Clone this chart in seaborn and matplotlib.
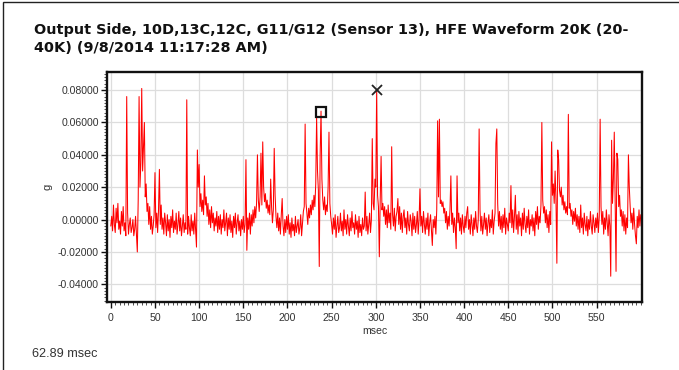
import numpy as np
import pandas as pd
import matplotlib
matplotlib.use("Agg")
import matplotlib.pyplot as plt
from matplotlib.ticker import MultipleLocator, FormatStrFormatter
from matplotlib.patches import Rectangle
import seaborn as sns

# ---------------- data ----------------
title_line1 = "Output Side, 10D,13C,12C, G11/G12 (Sensor 13), HFE Waveform 20K (20-"
title_line2 = "40K) (9/8/2014 11:17:28 AM)"
x_label = "msec"
y_label = "g"
footer_text = "62.89 msec"

# time axis: one sample per ms, 0 .. 600 ms
time_start_ms = 0
time_step_ms = 1

# amplitude in milli-g, one line per 10 ms
amp_mg = [
    -4, 2, -7, 9, -3, -8, 7, -2, 10, -6,
    -1, -9, 5, -4, 8, -7, -2, -10, 76, 4,
    -9, -3, 1, -8, -5, 0, -10, -6, 2, -9,
    -20, 12, 76, 20, 35, 81, 30, 45, 60, 14,
    22, 5, 10, -3, 8, -6, 2, -9, -4, 3,
    29, -5, 4, -8, 6, 31, -3, 9, -6, 1,
    -9, 4, -2, -10, 3, -7, 0, -11, 2, -5,
    6, -8, -1, -6, 4, -9, -3, 5, -7, 1,
    -10, -4, 3, -8, -2, -6, 74, -9, 2, -5,
    -10, 3, -7, -1, -9, 4, -6, -17, 43, 20,
    34, 8, 16, 5, 12, 3, 27, 9, 14, 2,
    10, -3, 6, -5, 8, -2, 4, -7, 1, -4,
    5, -8, 2, -6, 3, -9, 0, -5, 6, -7,
    -2, 4, -10, 1, -6, 3, -8, -1, -11, 2,
    -5, 4, -9, -2, 3, -7, -1, -10, 0, -6,
    2, -8, -3, 37, -19, 1, -6, 4, -9, 3,
    -4, 6, -2, 8, 1, 10, 40, 12, 5, 14,
    41, 9, 48, 20, 11, 16, 7, 12, 4, 9,
    3, 25, 8, -2, 6, 44, 15, 2, -5, 4,
    -7, 1, -9, 3, 13, -4, -10, 0, -8, 2,
    -6, 3, -9, -2, -11, 1, -7, -3, -10, 2,
    -8, -4, 0, -9, -5, 3, -10, -2, 5, 8,
    59, 10, 4, -3, 7, 1, 9, 3, 12, 6,
    15, 8, 22, 63, 30, 18, -29, 40, 67, 25,
    12, 6, 14, 3, 9, 5, 20, 54, 10, 2,
    -3, -9, 1, -6, 3, -11, -4, 2, -8, -5,
    4, -7, -1, -10, 6, -6, 0, -9, 3, -4,
    -10, 1, -7, 5, -5, -2, -9, 3, -6, -1,
    -11, 2, -8, -3, -10, 1, -6, -4, 17, -7,
    2, -9, -3, 4, -8, 0, 50, 10, 6, 25,
    20, 80, 15, 8, -23, 12, 39, 6, 10, 2,
    8, -3, 6, -5, 9, -2, 4, -6, 45, 3,
    -4, 7, -7, 2, 5, 13, -3, 8, -6, 4,
    -8, 2, 6, -5, 1, -9, 5, -3, -7, 3,
    -1, -10, 4, -6, 2, -8, -3, 5, -9, 0,
    19, -4, 2, -8, 5, -3, -9, 1, -6, 4,
    -10, -2, 3, -7, -16, 0, -5, 2, -9, 6,
    61, 14, 62, 10, 12, 8, 11, 4, 7, -2,
    5, -6, 2, -4, 6, 27, -3, 4, -8, 1,
    -5, -18, 27, -2, 4, -7, 1, -9, 3, -4,
    -8, 2, -5, 4, 8, -6, 0, -9, 3, -3,
    -10, 1, -6, 5, -4, -8, 0, 56, 6, -7,
    2, -9, -3, 4, -6, 1, -10, -2, 3, -8,
    0, -5, 6, -9, -1, 4, 47, 56, 10, -4,
    5, -6, 2, -8, 3, -5, 7, -9, 1, -3,
    -7, 4, -2, 21, -5, 6, -8, 2, 15, -6,
    3, -9, 5, -4, 1, -10, 4, -6, 7, -3,
    -8, 2, -5, 6, -9, 0, -4, 3, -7, 1,
    -10, 5, -3, 8, -6, 2, -2, 9, 60, 12,
    4, 8, -2, 6, -5, 3, -8, 5, -3, 48,
    15, 22, 10, 30, 12, -27, 43, 37, 18, 14,
    20, 9, 15, 6, 11, 4, 8, 3, 65, 7,
    10, 2, 6, -3, 5, -1, 7, -4, 3, -6,
    2, -8, 9, -5, 1, -9, 4, -3, -7, 2,
    -10, 0, -6, 5, -4, -9, 3, -2, -8, 1,
    -5, 4, -8, 2, 62, 8, -3, 5, -9, 1,
    -6, 6, -2, -10, 3, -4, -35, 49, 10, 25,
    54, 12, -32, 41, 37, 8, 15, 2, 6, -4,
    5, -7, 3, -9, 1, -5, 40, 20, 8, -2,
    4, -6, 7, -3, -10, -15, 2, -5, 6, -4,
    3,
]

# cursor markers (msec, g)
square_ms, square_g = 237.7, 0.0666
cross_ms, cross_g = 300.8, 0.0800

x_ticks = [0, 50, 100, 150, 200, 250, 300, 350, 400, 450, 500, 550]
y_ticks = [-0.04, -0.02, 0.0, 0.02, 0.04, 0.06, 0.08]

# ---------------- figure ----------------
sns.set_theme(style="white")
plt.rcParams["font.family"] = ["Liberation Sans", "DejaVu Sans"]

t = time_start_ms + time_step_ms * np.arange(len(amp_mg))
df = pd.DataFrame({"msec": t, "g": np.array(amp_mg) / 1000.0})

fig = plt.figure(figsize=(6.79, 3.70), dpi=100)
fig.patch.set_facecolor("white")

# outer frame (left and top edges of a panel border)
fig.add_artist(Rectangle((3 / 679, -0.1), 1.2, 1 - 2 / 370 + 0.1,
                         transform=fig.transFigure, fill=False,
                         edgecolor="#222222", linewidth=1.0))

ax = fig.add_axes([0.158, 0.183, 0.787, 0.623])
ax.set_facecolor("white")

sns.lineplot(data=df, x="msec", y="g", ax=ax, color="#ff0000",
             linewidth=0.75, estimator=None, sort=False, legend=False)

ax.plot([square_ms], [square_g], marker="s", markersize=6.5, markerfacecolor="none",
        markeredgecolor="#111111", markeredgewidth=1.6, linestyle="none", zorder=5)
ax.plot([cross_ms], [cross_g], marker="x", markersize=7, markeredgecolor="#222222",
        markeredgewidth=1.3, linestyle="none", zorder=5)

ax.set_xlim(-4, 601)
ax.set_ylim(-0.0511, 0.0913)
ax.set_xticks(x_ticks)
ax.set_yticks(y_ticks)
ax.xaxis.set_minor_locator(MultipleLocator(5))
ax.yaxis.set_minor_locator(MultipleLocator(0.002))
ax.yaxis.set_major_formatter(FormatStrFormatter("%.5f"))

ax.grid(True, which="major", color="#dddddd", linewidth=0.9)
ax.set_axisbelow(True)

for s in ax.spines.values():
    s.set_visible(True)
    s.set_color("#111111")
    s.set_linewidth(1.7)

ax.tick_params(axis="both", which="major", direction="out", length=4, width=1.0,
               color="#111111", labelsize=7.6, labelcolor="#333333", pad=2)
ax.tick_params(axis="x", which="major", pad=4)
ax.tick_params(axis="both", which="minor", direction="out", length=2, width=0.6,
               color="#333333")
ax.tick_params(axis="x", which="both", bottom=True)
ax.tick_params(axis="y", which="both", left=True)

ax.set_xlabel(x_label, fontsize=7.6, color="#333333", labelpad=2)
ax.set_ylabel(y_label, fontsize=8, color="#333333", labelpad=4)

title_kw = dict(fontsize=10.35, fontweight="bold", color="#111111",
                family=["DejaVu Sans"], ha="left", va="center")
fig.text(34 / 679, 1 - 30 / 370, title_line1, **title_kw)
fig.text(34 / 679, 1 - 48 / 370, title_line2, **title_kw)
fig.text(32 / 679, 1 - 354 / 370, footer_text, fontsize=9.1, color="#333333",
         ha="left", va="center")

fig.savefig("out.png", dpi=100, facecolor="white")
